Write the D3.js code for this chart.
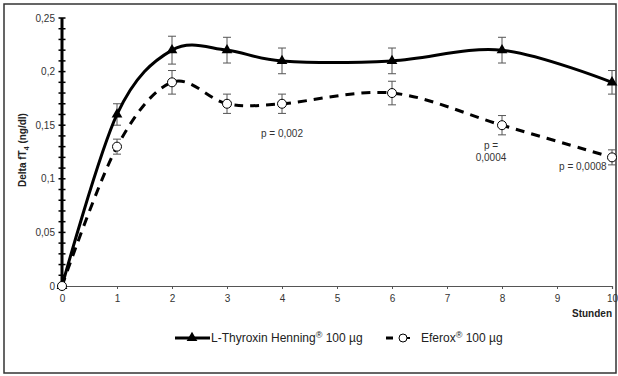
<!DOCTYPE html>
<html><head><meta charset="utf-8">
<script src="https://cdn.jsdelivr.net/npm/d3@7"></script>
<style>body{margin:0;background:#fff}svg{display:block;font-family:"Liberation Sans",Arial,sans-serif}</style>
</head><body><svg id="c" width="618" height="376"></svg>
<script>
const hours = [0, 1, 2, 3, 4, 6, 8, 10];
const lthyroxin = [0, 0.16, 0.22, 0.22, 0.21, 0.21, 0.22, 0.19];
const lthyroxinErr = [0, 0.01, 0.013, 0.012, 0.012, 0.012, 0.012, 0.011];
const eferox = [0, 0.13, 0.19, 0.17, 0.17, 0.18, 0.15, 0.12];
const eferoxErr = [0, 0.007, 0.011, 0.009, 0.009, 0.011, 0.009, 0.007];
const xTicks = [0,1,2,3,4,5,6,7,8,9,10];
const yTicks = [0, 0.05, 0.1, 0.15, 0.2, 0.25];
const yTickLabels = ["0", "0,05", "0,1", "0,15", "0,2", "0,25"];
const yMinorTicks = d3.range(0, 26).map(i => i / 100);
const annotations = [
  {x: 4.0, y: 0.139, lines: ["p = 0,002"]},
  {x: 7.8, y: 0.128, lines: ["p =", "0,0004"]},
  {x: 9.47, y: 0.108, lines: ["p = 0,0008"]}
];
const seriesNames = ["L-Thyroxin Henning", "Eferox"];

const svg = d3.select("#c");
const x = d3.scaleLinear().domain([0, 10]).range([62, 612]);
const y = d3.scaleLinear().domain([0, 0.25]).range([286, 18]);

// frame
svg.append("rect").attr("x", 4).attr("y", 4).attr("width", 612).attr("height", 369)
  .attr("fill", "none").attr("stroke", "#333").attr("stroke-width", 1.5);

// x axis
const xAxis = svg.append("g").attr("transform", "translate(0,286)")
  .call(d3.axisBottom(x).tickValues(xTicks).tickSize(3).tickPadding(6).tickFormat(d => d));
xAxis.select(".domain").attr("stroke", "#555").attr("stroke-width", 1.2);
xAxis.selectAll(".tick line").attr("stroke", "#555");
xAxis.selectAll("text").attr("fill", "#333").attr("font-size", 10);

// y axis
const yg = svg.append("g").attr("transform", "translate(62,0)");
yg.append("line").attr("y1", y(0)).attr("y2", y(0.25)).attr("stroke", "#000").attr("stroke-width", 3);
yg.selectAll("line.mt").data(yMinorTicks).join("line").attr("class", "mt")
  .attr("x1", -3.5).attr("x2", 3.5).attr("y1", d => y(d)).attr("y2", d => y(d))
  .attr("stroke", "#000").attr("stroke-width", 1.5);
yg.selectAll("text").data(yTicks).join("text")
  .attr("x", -7).attr("y", d => y(d)).attr("dy", "0.35em").attr("text-anchor", "end")
  .attr("font-size", 10).attr("fill", "#333").text((d, i) => yTickLabels[i]);

// y label
const yl = svg.append("text").attr("transform", "translate(26,150) rotate(-90)")
  .attr("text-anchor", "middle").attr("font-size", 10).attr("font-weight", "bold").attr("fill", "#222");
yl.append("tspan").text("Delta fT");
yl.append("tspan").attr("font-size", 7).attr("dy", 3).text("4");
yl.append("tspan").attr("dy", -3).text(" (ng/dl)");

// x label
svg.append("text").attr("x", 612).attr("y", 317).attr("text-anchor", "end")
  .attr("font-size", 10).attr("font-weight", "bold").attr("fill", "#222").text("Stunden");

const line = d3.line().x((d, i) => x(hours[i])).y(d => y(d)).curve(d3.curveCatmullRom.alpha(0));

// error bars
function errorBars(vals, errs) {
  const g = svg.append("g").attr("stroke", "#555").attr("stroke-width", 1);
  vals.forEach((v, i) => {
    if (!errs[i]) return;
    const cx = x(hours[i]);
    g.append("line").attr("x1", cx).attr("x2", cx).attr("y1", y(v + errs[i])).attr("y2", y(v - errs[i]));
    g.append("line").attr("x1", cx - 4).attr("x2", cx + 4).attr("y1", y(v + errs[i])).attr("y2", y(v + errs[i]));
    g.append("line").attr("x1", cx - 4).attr("x2", cx + 4).attr("y1", y(v - errs[i])).attr("y2", y(v - errs[i]));
  });
}
errorBars(lthyroxin, lthyroxinErr);
errorBars(eferox, eferoxErr);

svg.append("path").attr("d", line(eferox)).attr("fill", "none").attr("stroke", "#000")
  .attr("stroke-width", 3).attr("stroke-dasharray", "9,7");
svg.append("path").attr("d", line(lthyroxin)).attr("fill", "none").attr("stroke", "#000")
  .attr("stroke-width", 3);

const tri = d3.symbol().type(d3.symbolTriangle).size(50);
svg.selectAll("path.tri").data(lthyroxin).join("path").attr("class", "tri")
  .attr("d", tri).attr("transform", (d, i) => `translate(${x(hours[i])},${y(d)})`).attr("fill", "#000");
svg.selectAll("circle.ef").data(eferox).join("circle").attr("class", "ef")
  .attr("cx", (d, i) => x(hours[i])).attr("cy", d => y(d)).attr("r", 4.5)
  .attr("fill", "#fff").attr("stroke", "#000").attr("stroke-width", 1);

// annotations
annotations.forEach(a => {
  const t = svg.append("text").attr("text-anchor", "middle").attr("font-size", 10).attr("fill", "#333");
  a.lines.forEach((l, k) => t.append("tspan").attr("x", x(a.x)).attr("y", y(a.y) + k * 12).text(l));
});

// legend
const lg = svg.append("g").attr("transform", "translate(0,338)");
lg.append("line").attr("x1", 175).attr("x2", 210).attr("stroke", "#000").attr("stroke-width", 3);
lg.append("path").attr("d", tri).attr("transform", "translate(192,0)").attr("fill", "#000");
const t1 = lg.append("text").attr("x", 211).attr("y", 4).attr("font-size", 12).attr("fill", "#222");
t1.append("tspan").text("L-Thyroxin Henning");
t1.append("tspan").attr("font-size", 9).attr("dy", -4).text("®");
t1.append("tspan").attr("dy", 4).text(" 100 µg");
lg.append("line").attr("x1", 386).attr("x2", 393).attr("stroke", "#000").attr("stroke-width", 3);
lg.append("circle").attr("cx", 403).attr("cy", 0).attr("r", 4).attr("fill", "#fff").attr("stroke", "#000");
lg.append("line").attr("x1", 407).attr("x2", 410).attr("stroke", "#000").attr("stroke-width", 2);
const t2 = lg.append("text").attr("x", 421).attr("y", 4).attr("font-size", 12).attr("fill", "#222");
t2.append("tspan").text("Eferox");
t2.append("tspan").attr("font-size", 9).attr("dy", -4).text("®");
t2.append("tspan").attr("dy", 4).text(" 100 µg");
</script></body></html>
